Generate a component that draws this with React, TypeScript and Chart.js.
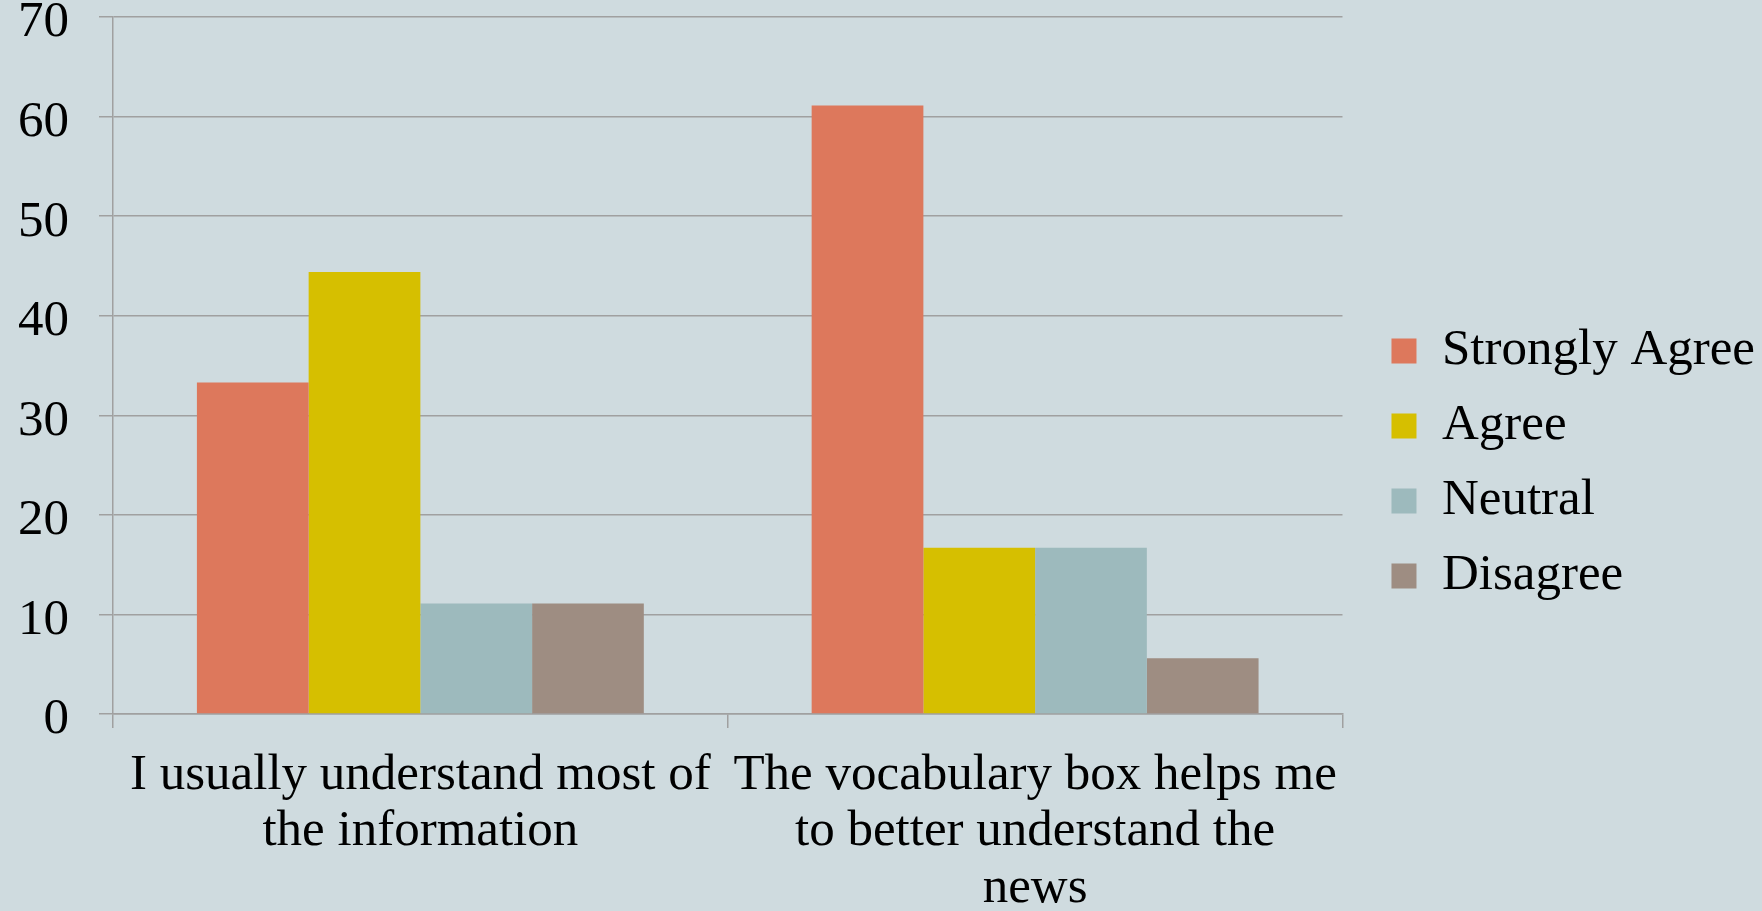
import React, { useEffect, useRef } from "react";
import { Chart, registerables } from "chart.js";

Chart.register(...registerables);

// ---- data ----
const categories: string[][] = [
  ["I usually understand most of", "the information"],
  ["The vocabulary box helps me", "to better understand the", "news"],
];
const seriesNames = ["Strongly Agree", "Agree", "Neutral", "Disagree"];
const stronglyAgree = [33.3, 61.1];
const agree = [44.4, 16.7];
const neutral = [11.1, 16.7];
const disagree = [11.1, 5.6];
const yMin = 0;
const yMax = 70;
const yStep = 10;

const seriesColors = ["#DD785C", "#D6BF00", "#9DBABD", "#9E8D82"];
const FONT = "'Liberation Serif', 'Times New Roman', serif";
const GRID = "#A0A0A0";
const FS = 51;

export default function App() {
  const ref = useRef<HTMLCanvasElement | null>(null);

  useEffect(() => {
    if (!ref.current) return;
    const values = [stronglyAgree, agree, neutral, disagree];
    const chart = new Chart(ref.current, {
      type: "bar",
      data: {
        labels: categories as any,
        datasets: seriesNames.map((name, i) => ({
          label: name,
          data: values[i],
          backgroundColor: seriesColors[i],
          borderWidth: 0,
          categoryPercentage: 0.727,
          barPercentage: 1,
          yAxisID: "y",
        })),
      },
      options: {
        animation: false,
        responsive: false,
        layout: { padding: { top: 17, bottom: 1, left: 0, right: -3 } },
        plugins: {
          tooltip: { enabled: false },
          legend: {
            position: "right",
            align: "center",
            labels: {
              color: "#000",
              font: { family: FONT, size: FS },
              boxWidth: 25,
              boxHeight: 25,
              padding: 24,
            },
          },
        },
        scales: {
          x: {
            offset: true,
            grid: {
              offset: true,
              drawOnChartArea: false,
              drawTicks: true,
              tickLength: 14,
              color: GRID,
              lineWidth: 1.5,
            },
            border: { display: true, color: GRID, width: 1.5 },
            ticks: {
              color: "#000",
              font: { family: FONT, size: FS, lineHeight: 1.108 },
              maxRotation: 0,
              minRotation: 0,
              autoSkip: false,
              padding: 19,
            },
            afterFit: (s: any) => {
              s.height = 196;
              s.paddingLeft = 0;
              s.paddingRight = 0;
            },
          },
          y: {
            min: yMin,
            max: yMax,
            position: "left",
            grid: {
              color: GRID,
              lineWidth: 1.5,
              tickLength: 14,
              drawTicks: true,
            },
            border: { display: true, color: GRID, width: 1.5 },
            ticks: {
              stepSize: yStep,
              color: "#000",
              font: { family: FONT, size: FS },
              padding: 30,
              labelOffset: 6,
            },
            afterFit: (s: any) => {
              s.width = 113;
              s.paddingTop = 0;
              s.paddingBottom = 0;
            },
          },
          gap: {
            type: "linear",
            position: "right",
            display: false,
            afterFit: (s: any) => {
              s.width = 25;
              s.paddingTop = 0;
              s.paddingBottom = 0;
            },
          },
        },
      } as any,
    });
    return () => chart.destroy();
  }, []);

  return (
    <div
      style={{
        position: "fixed",
        left: 0,
        top: 0,
        width: 1762,
        height: 911,
        background: "#CFDBDF",
        overflow: "hidden",
      }}
    >
      <canvas ref={ref} width={1762} height={911} style={{ display: "block" }} />
    </div>
  );
}
